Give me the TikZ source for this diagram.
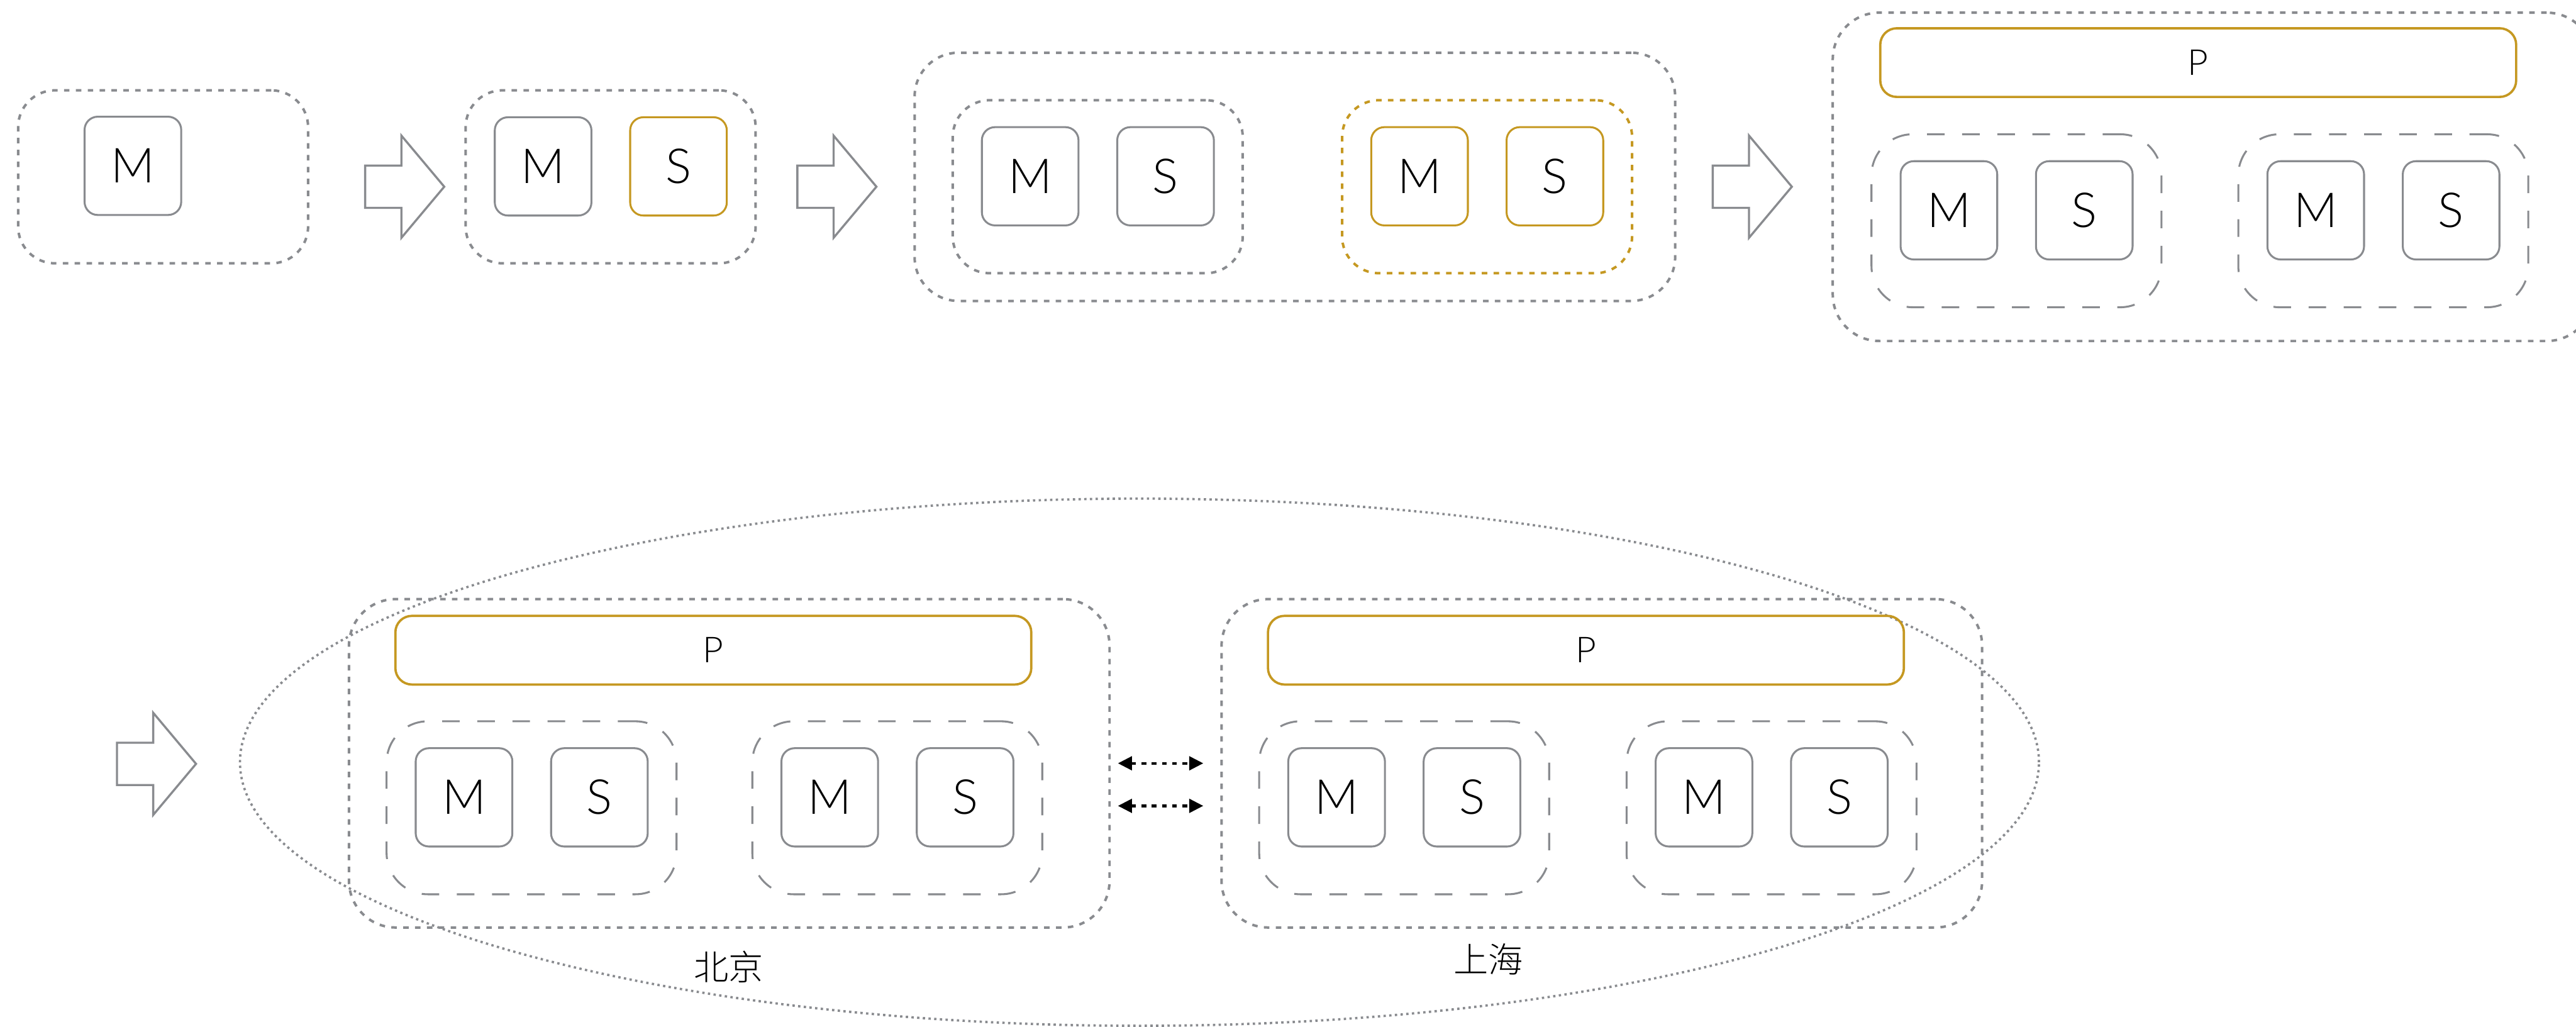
\documentclass[tikz,border=0pt]{standalone}
\usepackage{fontspec}
\setmainfont{Lato}[UprightFont=* Light]
\newfontfamily\cjk{Noto Sans CJK SC}[UprightFont=* Light]
\usetikzlibrary{shapes.geometric, arrows.meta, positioning}
\definecolor{linegray}{RGB}{137,139,143}
\definecolor{gold}{RGB}{197,152,33}
\tikzstyle{server} = [rectangle, rounded corners=0.24cm, minimum width=1.76cm, minimum height=1.79cm, text centered, draw=linegray, line width=1pt, font=\fontsize{25}{30}\selectfont]
\tikzstyle{proxy} = [rectangle, rounded corners=0.3cm, minimum width=11.58cm, minimum height=1.25cm, text centered, draw=gold, line width=1.2pt, font=\fontsize{18.5}{22}\selectfont]
\tikzset{
	cluster/.style={rectangle, rounded corners=0.67cm, minimum width=5.28cm, minimum height=3.15cm, draw=linegray, line width=1.3pt, dash pattern=on 2.85pt off 3.3pt},
	shard/.style={rectangle, rounded corners=0.75cm, minimum width=5.28cm, minimum height=3.15cm, draw=linegray, line width=1pt, dash pattern=on 9.1pt off 9.1pt},
	region/.style={cluster, rounded corners=0.85cm, minimum width=13.85cm, minimum height=5.98cm},
	zone/.style={ellipse, draw=linegray, line width=1.2pt, dash pattern=on 1.2pt off 1.75pt, minimum width=32.76cm, minimum height=9.6cm},
	bigarrow/.style={draw=linegray, line width=1.1pt, line join=miter},
	link/.style={line width=1.4pt, dash pattern=on 2.4pt off 2.9pt, <->, >={Triangle[length=7.3pt, width=7.1pt]}, shorten <=0.13cm, shorten >=0.31cm},
	city/.style={font=\cjk\fontsize{18}{22}\selectfont}
}

\begin{document}
\begin{tikzpicture}
	\useasboundingbox (0,0) rectangle (46.91,-18.70);

	% Top row: single master, then master/slave, then sharding, then proxy
	\node (A) [cluster] at (2.97,-3.22) {};
	\node (mA) [server] at (2.42,-3.02) {M};

	\node (B) [cluster] at (11.12,-3.22) {};
	\node (mB) [server] at (9.89,-3.03) {M};
	\node (sB) [server, draw=gold, right=0.67cm of mB] {S};

	\node (C) [region, rounded corners=0.8cm, minimum height=4.52cm] at (23.58,-3.22) {};
	\node (C1) [cluster] at (19.99,-3.40) {};
	\node (C2) [cluster, draw=gold] at (27.08,-3.40) {};
	\node (mC2) [server, draw=gold] at (25.85,-3.21) {M};
	\node (sC2) [server, draw=gold, right=0.67cm of mC2] {S};

	\node (D) [region] at (40.30,-3.22) {};
	\node (pD) [proxy] at (40.03,-1.14) {P};
	\node (D1) [shard] at (36.72,-4.02) {};
	\node (D2) [shard] at (43.40,-4.02) {};

	% Bottom row: two cities
	\node (span) [zone] at (20.75,-13.88) {};
	\node (bj) [region] at (13.28,-13.90) {};
	\node (pbj) [proxy] at (12.99,-11.84) {P};
	\node (bj1) [shard] at (9.68,-14.71) {};
	\node (bj2) [shard] at (16.34,-14.71) {};
	\node (bjname) [city] at (13.27,-17.61) {北京};

	\node (sh) [region] at (29.17,-13.90) {};
	\node (psh) [proxy] at (28.88,-11.84) {P};
	\node (sh1) [shard] at (25.57,-14.71) {};
	\node (sh2) [shard] at (32.26,-14.71) {};
	\node (shname) [city] at (27.10,-17.47) {上海};

	% Master/slave pairs
	\foreach \x/\y/\n in {18.76/-3.21/C1, 35.49/-3.83/D1, 42.17/-3.83/D2, 8.45/-14.52/bj1, 15.11/-14.52/bj2, 24.34/-14.52/sh1, 31.03/-14.52/sh2} {
		\node (m\n) [server] at (\x,\y) {M};
		\node (s\n) [server, right=0.67cm of m\n] {S};
	}

	% Step arrows
	\foreach \x/\y in {6.65/-3.40, 14.52/-3.40, 31.19/-3.40, 2.13/-13.91}
		\draw [bigarrow] (\x,\y) ++(0,0.385) -- ++(0.66,0) -- ++(0,0.545) -- ++(0.78,-0.93) -- ++(-0.78,-0.93) -- ++(0,0.545) -- ++(-0.66,0) -- cycle;

	% Sync between cities
	\draw [link] (bj.east) -- (sh.west);
	\draw [link] ([yshift=-0.775cm]bj.east) -- ([yshift=-0.775cm]sh.west);

\end{tikzpicture}
\end{document}
